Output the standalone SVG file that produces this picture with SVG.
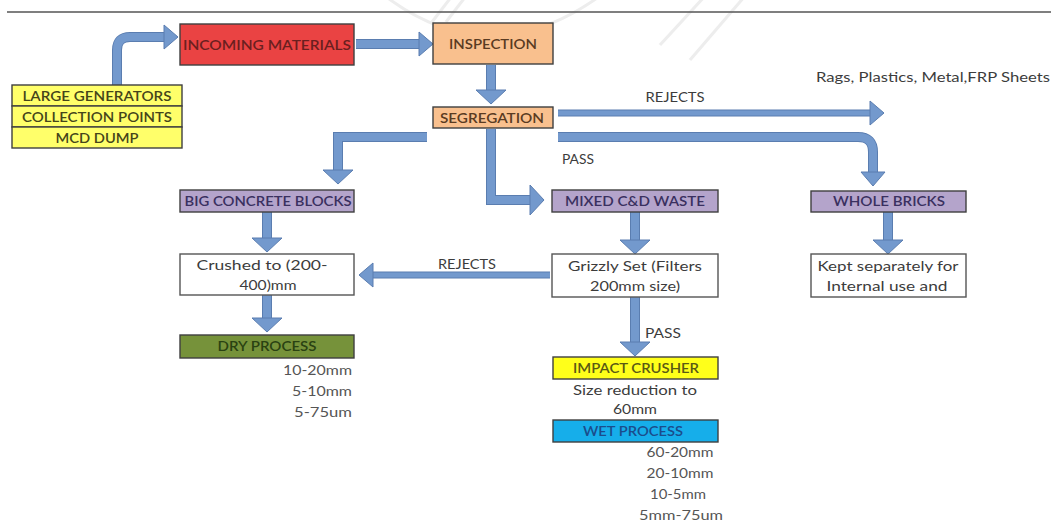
<svg xmlns="http://www.w3.org/2000/svg" width="1051" height="524" viewBox="0 0 1051 524">
<style>
.bx{stroke:#3f3f3f;stroke-width:1.4}
.red{fill:#EA4343}
.peach{fill:#F9C08E}
.ylw{fill:#FFFF6A}
.ylw2{fill:#FFFF1A}
.pur{fill:#B4A4CB}
.grn{fill:#76923A}
.blu{fill:#16AEEA}
.wht{fill:#FFFFFF;stroke:#555555}
.lb{font-family:Lato,"Open Sans",sans-serif;font-size:13px;font-weight:600;text-anchor:middle}
.tx{font-family:Lato,"Open Sans",sans-serif;font-size:13px;text-anchor:middle;fill:#3c3c3c}
.num{font-family:Lato,"Open Sans",sans-serif;font-size:12.5px;fill:#555555}
.so{fill:none;stroke:#5A7DB0;stroke-width:10}
.si{fill:none;stroke:#7399CD;stroke-width:8}
.so2{fill:none;stroke:#5A7DB0;stroke-width:7}
.si2{fill:none;stroke:#7399CD;stroke-width:5}
.wm{fill:none;stroke:#EDEDED;stroke-width:3}
</style>
<defs>
<marker id="ah" markerUnits="userSpaceOnUse" orient="auto" refX="0" refY="0" overflow="visible">
<path d="M0,-12 L14,0 L0,12 Z" fill="#7399CD" stroke="#5A7DB0" stroke-width="1"/>
</marker>
<marker id="ahw" markerUnits="userSpaceOnUse" orient="auto" refX="0" refY="0" overflow="visible">
<path d="M0,-15 L14,0 L0,15 Z" fill="#7399CD" stroke="#5A7DB0" stroke-width="1"/>
</marker>
</defs>
<rect width="1051" height="524" fill="#FFFFFF"/>
<g id="watermark">
<path class="wm" d="M385,-4 Q490,75 600,-4"/>
<path class="wm" d="M432,22 L452,-4 M446,22 L466,-4"/>
<path class="wm" d="M660,45 L705,-4 M690,60 L745,-4"/>
</g>
<line x1="7" y1="12" x2="1051" y2="12" stroke="#555555" stroke-width="1.3"/>

<g id="connectors">
<path class="so" d="M117,86 V50 Q117,37 130,37 H164"/>
<path class="si" d="M117,86 V50 Q117,37 130,37 H164" marker-end="url(#ah)"/>
<path class="so" d="M356,44 H419"/>
<path class="si" d="M356,44 H419" marker-end="url(#ah)"/>
<path class="so" d="M491,65 V90"/>
<path class="si" d="M491,65 V90" marker-end="url(#ahw)"/>
<path class="so2" d="M558,113 H870"/>
<path class="si2" d="M558,113 H870" marker-end="url(#ah)"/>
<path class="so" d="M558,137 H858 Q873,137 873,152 V172"/>
<path class="si" d="M558,137 H858 Q873,137 873,152 V172" marker-end="url(#ah)"/>
<path class="so" d="M491,129 V200 H530"/>
<path class="si" d="M491,129 V200 H530" marker-end="url(#ahw)"/>
<path class="so" d="M427,137 H338 V170"/>
<path class="si" d="M427,137 H338 V170" marker-end="url(#ahw)"/>
<path class="so" d="M267,212 V238"/>
<path class="si" d="M267,212 V238" marker-end="url(#ahw)"/>
<path class="so" d="M267,295 V318"/>
<path class="si" d="M267,295 V318" marker-end="url(#ahw)"/>
<path class="so2" d="M550,275 H373"/>
<path class="si2" d="M550,275 H373" marker-end="url(#ah)"/>
<path class="so" d="M635,212 V240"/>
<path class="si" d="M635,212 V240" marker-end="url(#ahw)"/>
<path class="so" d="M635,297 V342"/>
<path class="si" d="M635,297 V342" marker-end="url(#ahw)"/>
<path class="so" d="M888,212 V240"/>
<path class="si" d="M888,212 V240" marker-end="url(#ahw)"/>
<text class="tx" x="675" y="102" textLength="59" lengthAdjust="spacingAndGlyphs">REJECTS</text>
<text class="tx" x="578" y="164" textLength="32" lengthAdjust="spacingAndGlyphs">PASS</text>
<text class="tx" x="467" y="269" textLength="58" lengthAdjust="spacingAndGlyphs">REJECTS</text>
<text class="tx" x="663" y="338" textLength="36" lengthAdjust="spacingAndGlyphs">PASS</text>
</g>

<g id="sources">
<rect class="bx ylw" x="12" y="85" width="170" height="21"/>
<rect class="bx ylw" x="12" y="106" width="170" height="21"/>
<rect class="bx ylw" x="12" y="127" width="170" height="21"/>
<text class="lb" x="97" y="100.5" fill="#45451a" textLength="149" lengthAdjust="spacingAndGlyphs">LARGE GENERATORS</text>
<text class="lb" x="97" y="121.5" fill="#45451a" textLength="150" lengthAdjust="spacingAndGlyphs">COLLECTION POINTS</text>
<text class="lb" x="97" y="142.5" fill="#45451a" textLength="83" lengthAdjust="spacingAndGlyphs">MCD DUMP</text>
</g>
<g id="incoming">
<rect class="bx red" x="180" y="24" width="174" height="41"/>
<text class="lb" x="267" y="50" fill="#6a1f1f" textLength="168" lengthAdjust="spacingAndGlyphs">INCOMING MATERIALS</text>
</g>
<g id="inspection">
<rect class="bx peach" x="433" y="23" width="120" height="41"/>
<text class="lb" x="493" y="49" fill="#5a3b22" textLength="88" lengthAdjust="spacingAndGlyphs">INSPECTION</text>
</g>
<g id="segregation">
<rect class="bx peach" x="433" y="107" width="120" height="21"/>
<text class="lb" x="492" y="122.5" fill="#5a3b22" textLength="104" lengthAdjust="spacingAndGlyphs">SEGREGATION</text>
</g>
<g id="rejects-note">
<text class="tx" x="933" y="82" fill="#444444" textLength="234" lengthAdjust="spacingAndGlyphs">Rags, Plastics, Metal,FRP Sheets</text>
</g>
<g id="big-concrete">
<rect class="bx pur" x="180" y="190" width="174" height="22"/>
<text class="lb" x="268" y="205.5" fill="#3a3060" textLength="167" lengthAdjust="spacingAndGlyphs">BIG CONCRETE BLOCKS</text>
</g>
<g id="crushed">
<rect class="bx wht" x="180" y="254" width="174" height="41"/>
<text class="tx" x="262" y="270" textLength="131" lengthAdjust="spacingAndGlyphs">Crushed to (200-</text>
<text class="tx" x="268" y="290" textLength="57" lengthAdjust="spacingAndGlyphs">400)mm</text>
</g>
<g id="dry-process">
<rect class="bx grn" x="180" y="335" width="174" height="23"/>
<text class="lb" x="267" y="351" fill="#2a4212" textLength="99" lengthAdjust="spacingAndGlyphs">DRY PROCESS</text>
<text class="num" x="352" y="375" text-anchor="end" textLength="69" lengthAdjust="spacingAndGlyphs">10-20mm</text>
<text class="num" x="352" y="396" text-anchor="end" textLength="60" lengthAdjust="spacingAndGlyphs">5-10mm</text>
<text class="num" x="352" y="417" text-anchor="end" textLength="58" lengthAdjust="spacingAndGlyphs">5-75um</text>
</g>
<g id="mixed">
<rect class="bx pur" x="552" y="190" width="166" height="22"/>
<text class="lb" x="635" y="205.5" fill="#3a3060" textLength="140" lengthAdjust="spacingAndGlyphs">MIXED C&amp;D WASTE</text>
</g>
<g id="grizzly">
<rect class="bx wht" x="552" y="254" width="166" height="43"/>
<text class="tx" x="635" y="271" textLength="134" lengthAdjust="spacingAndGlyphs">Grizzly Set (Filters</text>
<text class="tx" x="635" y="291" textLength="90" lengthAdjust="spacingAndGlyphs">200mm size)</text>
</g>
<g id="impact">
<rect class="bx ylw2" x="553" y="357" width="165" height="22"/>
<text class="lb" x="636" y="372.5" fill="#5a5a14" textLength="126" lengthAdjust="spacingAndGlyphs">IMPACT CRUSHER</text>
<text class="tx" x="635" y="395" textLength="124" lengthAdjust="spacingAndGlyphs">Size reduction to</text>
<text class="tx" x="635" y="414" textLength="44" lengthAdjust="spacingAndGlyphs">60mm</text>
</g>
<g id="wet-process">
<rect class="bx blu" x="553" y="420" width="165" height="22"/>
<text class="lb" x="633" y="435.5" fill="#1b4d8c" textLength="100" lengthAdjust="spacingAndGlyphs">WET PROCESS</text>
<text class="num" x="680" y="457" text-anchor="middle" textLength="67" lengthAdjust="spacingAndGlyphs">60-20mm</text>
<text class="num" x="680" y="478" text-anchor="middle" textLength="67" lengthAdjust="spacingAndGlyphs">20-10mm</text>
<text class="num" x="678" y="499" text-anchor="middle" textLength="56" lengthAdjust="spacingAndGlyphs">10-5mm</text>
<text class="num" x="681" y="520" text-anchor="middle" textLength="84" lengthAdjust="spacingAndGlyphs">5mm-75um</text>
</g>
<g id="whole-bricks">
<rect class="bx pur" x="811" y="191" width="155" height="21"/>
<text class="lb" x="889" y="206" fill="#3a3060" textLength="112" lengthAdjust="spacingAndGlyphs">WHOLE BRICKS</text>
</g>
<g id="kept">
<rect class="bx wht" x="811" y="254" width="155" height="43"/>
<text class="tx" x="888" y="271" textLength="141" lengthAdjust="spacingAndGlyphs">Kept separately for</text>
<text class="tx" x="887" y="291" textLength="121" lengthAdjust="spacingAndGlyphs">Internal use and</text>
</g>
</svg>
